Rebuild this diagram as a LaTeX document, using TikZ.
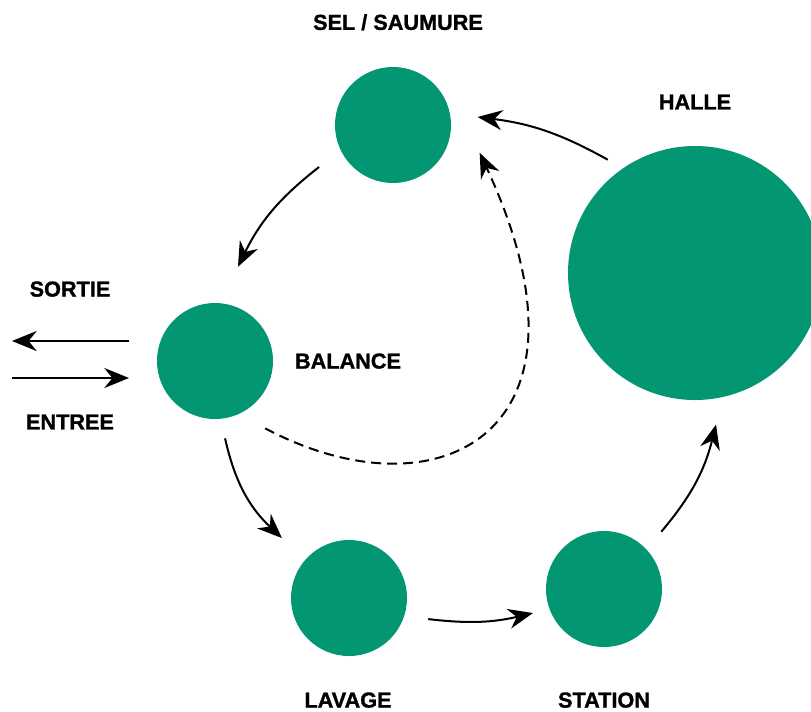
\documentclass[tikz,border=0pt]{standalone}
\usepackage{fontspec}
\setmainfont{Liberation Sans}[BoldFeatures={FakeBold=1.2}]
\usetikzlibrary{arrows.meta}
\definecolor{color1}{RGB}{2,150,115}

\begin{document}
\begin{tikzpicture}[x=0.3mm,y=0.3mm,font=\fontsize{18.5}{22}\selectfont\bfseries]

    \useasboundingbox (0,0) rectangle (811,-711);
    \clip (0,0) rectangle (811,-711);

    \tikzset{
    % stations of the circuit: small and large
    poste/.style={circle, fill=color1, inner sep=0, minimum size=34.8mm},
    grandposte/.style={circle, fill=color1, inner sep=0, minimum size=76.2mm},
    etiquette/.style={inner sep=0, text depth=0pt},
    fleche/.style={-{Stealth[length=7.4mm,width=6mm,inset=2.4mm]}, line width=0.6mm}
    }

    % circles
    \node at (393,-125)[poste] (sel) {};
    \node at (695,-273)[grandposte] (halle) {};
    \node at (215,-361)[poste] (balance) {};
    \node at (349,-598)[poste] (lavage) {};
    \node at (604,-589)[poste] (station) {};

    % labels
    \node at (398,-22)[etiquette] (tsel) {SEL / SAUMURE};
    \node at (695,-102)[etiquette] (thalle) {HALLE};
    \node at (70,-289)[etiquette] (tsortie) {SORTIE};
    \node at (348,-361)[etiquette] (tbalance) {BALANCE};
    \node at (70,-422)[etiquette] (tentree) {ENTREE};
    \node at (348,-700)[etiquette] (tlavage) {LAVAGE};
    \node at (604,-700)[etiquette] (tstation) {STATION};

    % in and out
    \draw[fleche] ([shift={(-86,20)}]balance.center) -- ([shift={(-203,20)}]balance.center);
    \draw[fleche] ([shift={(-203,-17)}]balance.center) -- ([shift={(-86,-17)}]balance.center);

    % the circuit
    \draw[fleche] ([shift={(209.6:85)}]sel.center) to[bend right=13] ([shift={(76.3:97)}]balance.center);
    \draw[fleche] ([shift={(277.4:78)}]balance.center) to[bend right=17] ([shift={(138.2:90)}]lavage.center);
    \draw[fleche] ([shift={(345.1:82)}]lavage.center) to[bend right=10] ([shift={(198.7:75)}]station.center);
    \draw[fleche] ([shift={(45:81)}]station.center) to[bend right=13] ([shift={(277.9:153)}]halle.center);
    \draw[fleche] ([shift={(127.6:143)}]halle.center) to[bend right=11] ([shift={(5.4:85)}]sel.center);

    % back from the balance
    \draw[fleche, dash pattern=on 3mm off 1.8mm]
        ([shift={(306.7:84)}]balance.center) .. controls +(332:195) and +(295:310) .. ([shift={(342.2:91)}]sel.center);
\end{tikzpicture}
\end{document}
